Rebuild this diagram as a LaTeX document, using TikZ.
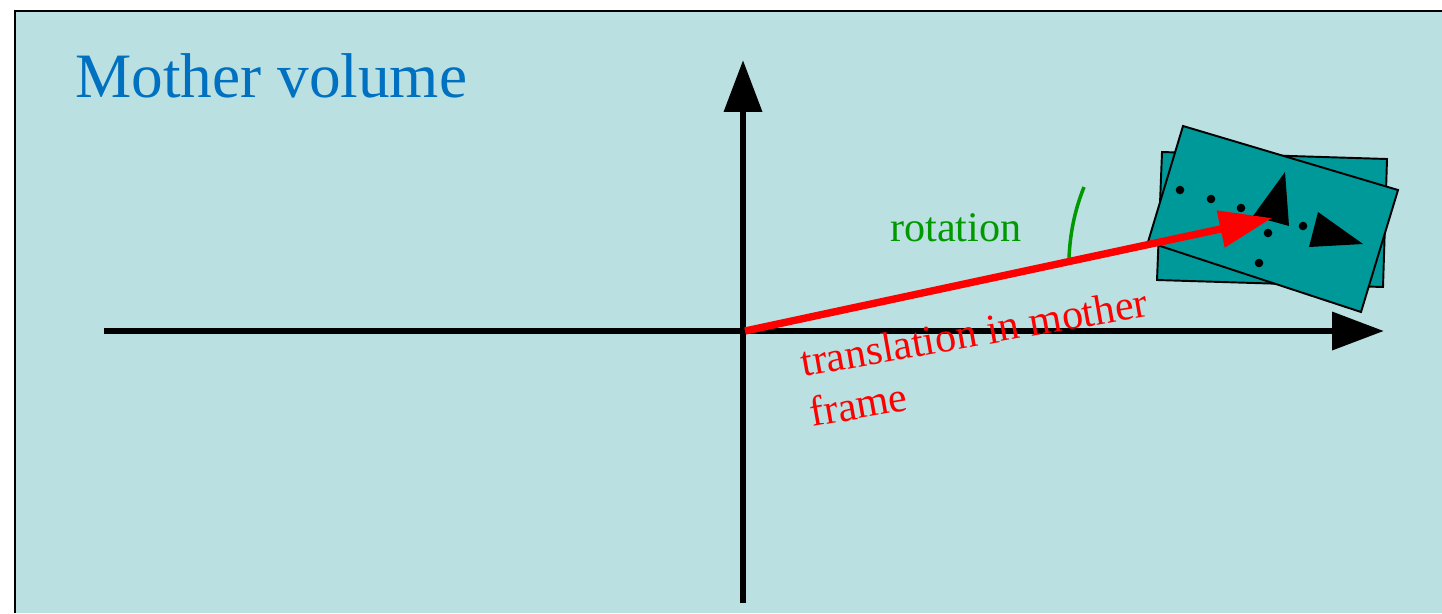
\documentclass[tikz,border=0pt]{standalone}
\usepackage{fontspec}
\setmainfont{Liberation Serif}
\usetikzlibrary{arrows.meta}
\definecolor{volC}{RGB}{186,224,226}
\definecolor{volT}{RGB}{0,153,153}
\definecolor{volB}{RGB}{0,112,192}
\definecolor{volG}{RGB}{0,153,0}
\definecolor{volR}{RGB}{255,0,0}
\begin{document}
\begin{tikzpicture}[x=0.02cm,y=-0.02cm,axis/.style={line width=3.9pt,-{Triangle[length=1.04cm,width=0.74cm]}},daughter/.style={fill=volT,draw=black,line width=1.1pt,line join=miter},every node/.style={inner sep=0pt}]
\useasboundingbox (0,0) rectangle (1442,613);
\fill[volC] (15,11) rectangle (1442,613); \draw[line width=1.1pt] (15,613) -- (15,11) -- (1442,11);
\node[volB,font=\fontsize{36}{43}\selectfont,anchor=base west] (title) at (75,97) {Mother volume};
% daughter volume, before and after rotation
\draw[daughter] (1162,152) -- (1387,159) -- (1383,287) -- (1157,280) -- cycle;
\draw[daughter] (1183,126) -- (1398,190) -- (1361,312) -- (1148,242) -- cycle;
\foreach \p in {(1180,190),(1211,199),(1241,208),(1268,233),(1303,226),(1259,263)} \fill \p circle (4.3);
\fill (1285,172) -- (1289,226) -- (1253,216) -- cycle; \fill (1318,212) -- (1363,244) -- (1309,247) -- cycle;
% axes of the mother frame
\coordinate (xl) at (104,331); \coordinate (xr) at (1384,331); \coordinate (yb) at (743,603); \coordinate (yt) at (743,60);
\draw[axis] (xl) -- (xr); \draw[axis] (yb) -- (yt);
\coordinate (o) at (745,331); \coordinate (d) at (1272,218);
\draw[volR,line width=4.2pt,-{Triangle[length=1.05cm,width=0.72cm]}] (o) -- (d);
\coordinate (g1) at (1084,187); \coordinate (g2) at (1069,258);
\draw[volG,line width=2pt] (g1) .. controls (1074,212) and (1070,235) .. (g2);
\node[volG,font=\fontsize{24}{29}\selectfont,anchor=base west] (rot) at (890,241) {rotation};
\node[volR,font=\fontsize{24}{29}\selectfont,anchor=base west,rotate=10,align=left] (trans) at (812,427) {translation in mother\\frame};
\end{tikzpicture}
\end{document}
